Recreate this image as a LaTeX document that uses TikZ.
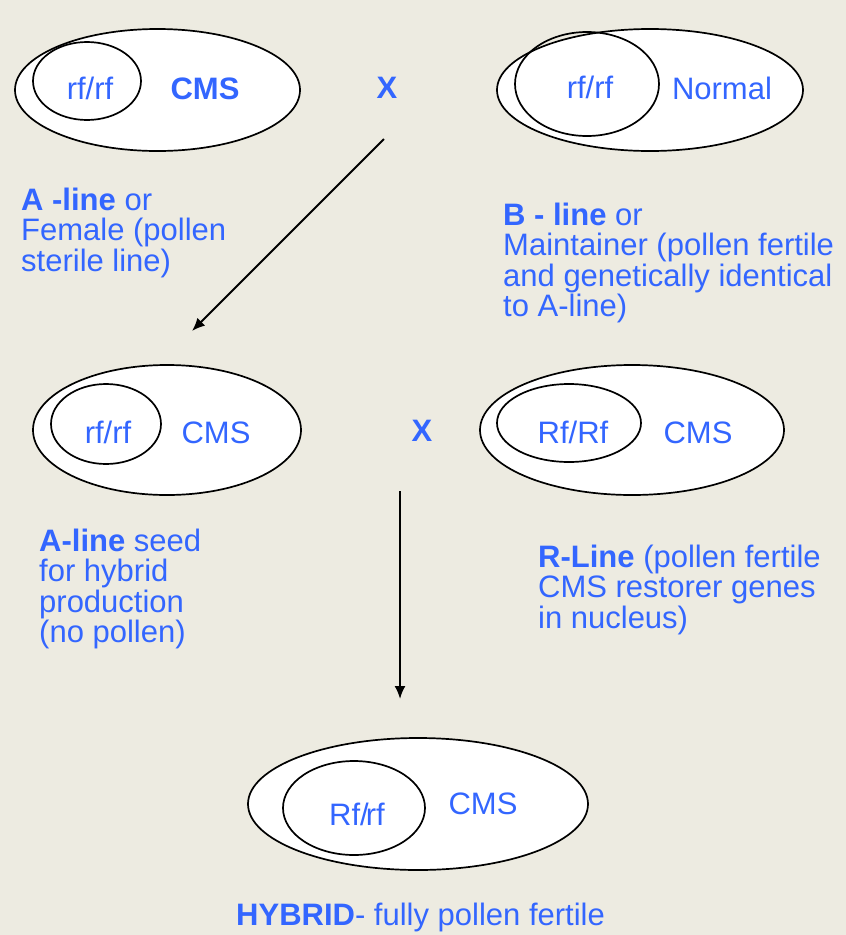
\documentclass[tikz,border=0pt]{standalone}
\usepackage{fontspec}
\setmainfont{Liberation Sans}
\usetikzlibrary{shapes.geometric,arrows.meta}
\definecolor{bgc}{RGB}{237,235,225}
\definecolor{blueT}{RGB}{51,102,255}
\tikzset{
  outerell/.style={draw=black,line width=1.7pt,fill=white,ellipse,inner sep=0pt},
  innerell/.style={draw=black,line width=1.7pt,ellipse,inner sep=0pt},
  lbl/.style={text=blueT,inner sep=0pt,anchor=base,font=\fontsize{31}{31}\selectfont},
  blk/.style={text=blueT,inner sep=0pt,anchor=base west,align=left,font=\fontsize{31}{30.5}\selectfont},
  arr/.style={draw=black,line width=2pt,-{Latex[length=13pt,width=11pt]}}
}
\begin{document}
\begin{tikzpicture}[x=1pt,y=-1pt]
\fill[bgc] (0,0) rectangle (846,935);
\useasboundingbox (0,0) rectangle (846,935);

% top left
\node[outerell,minimum width=285pt,minimum height=122pt] (tlo) at (157.5,90) {};
\node[innerell,minimum width=108pt,minimum height=78pt] (tli) at (87,81) {};
\node[lbl] (tlg) at (90,99) {rf/rf};
\node[lbl,font=\fontsize{31}{31}\selectfont\bfseries] (tlc) at (205,99) {CMS};

% top X
\node[lbl,font=\fontsize{31}{31}\selectfont\bfseries] (x1) at (387,98) {X};

% top right
\node[outerell,minimum width=306pt,minimum height=122pt] (tro) at (650,90) {};
\node[innerell,minimum width=144pt,minimum height=104pt] (tri) at (587,84) {};
\node[lbl] (trg) at (590,98) {rf/rf};
\node[lbl] (trc) at (722,99) {Normal};

% text blocks (base anchor = last line baseline)
\node[blk] (atxt) at (21,271) {\textbf{A -line} or\\Female (pollen\\sterile line)};
\node[blk] (btxt) at (503,316.5) {\textbf{B - line} or\\Maintainer (pollen fertile\\and genetically identical\\to A-line)};

% middle left
\node[outerell,minimum width=268pt,minimum height=130pt] (mlo) at (167,430) {};
\node[innerell,minimum width=110pt,minimum height=80pt] (mli) at (106,424) {};
\node[lbl] (mlg) at (108,443) {rf/rf};
\node[lbl] (mlc) at (216,443) {CMS};

% middle X
\node[lbl,font=\fontsize{31}{31}\selectfont\bfseries] (x2) at (422,441) {X};

% middle right
\node[outerell,minimum width=304pt,minimum height=130pt] (mro) at (632,430) {};
\node[innerell,minimum width=144pt,minimum height=78pt] (mri) at (569,423) {};
\node[lbl] (mrg) at (573,443) {Rf/Rf};
\node[lbl] (mrc) at (698,443) {CMS};

\node[blk] (aseed) at (39,642.5) {\textbf{A-line} seed\\for hybrid\\production\\(no pollen)};
\node[blk] (rtxt) at (538,628) {\textbf{R-Line} (pollen fertile\\CMS restorer genes\\in nucleus)};

% bottom
\node[outerell,minimum width=340pt,minimum height=132pt] (bo) at (418,804) {};
\node[innerell,minimum width=142pt,minimum height=94pt] (bi) at (354,808) {};
\node[lbl] (bg) at (357,825) {Rf/\kern-3pt rf};
\node[lbl] (bc) at (483,814) {CMS};

\node[blk] (htxt) at (236,925) {\textbf{HYBRID}- fully pollen fertile};

% arrows
\coordinate (d1s) at (384,139);
\coordinate (d1e) at (192,331);
\coordinate (v1s) at (400,491);
\coordinate (v1e) at (400,699);
\draw[arr] (d1s) -- (d1e);
\draw[arr] (v1s) -- (v1e);
\end{tikzpicture}
\end{document}
